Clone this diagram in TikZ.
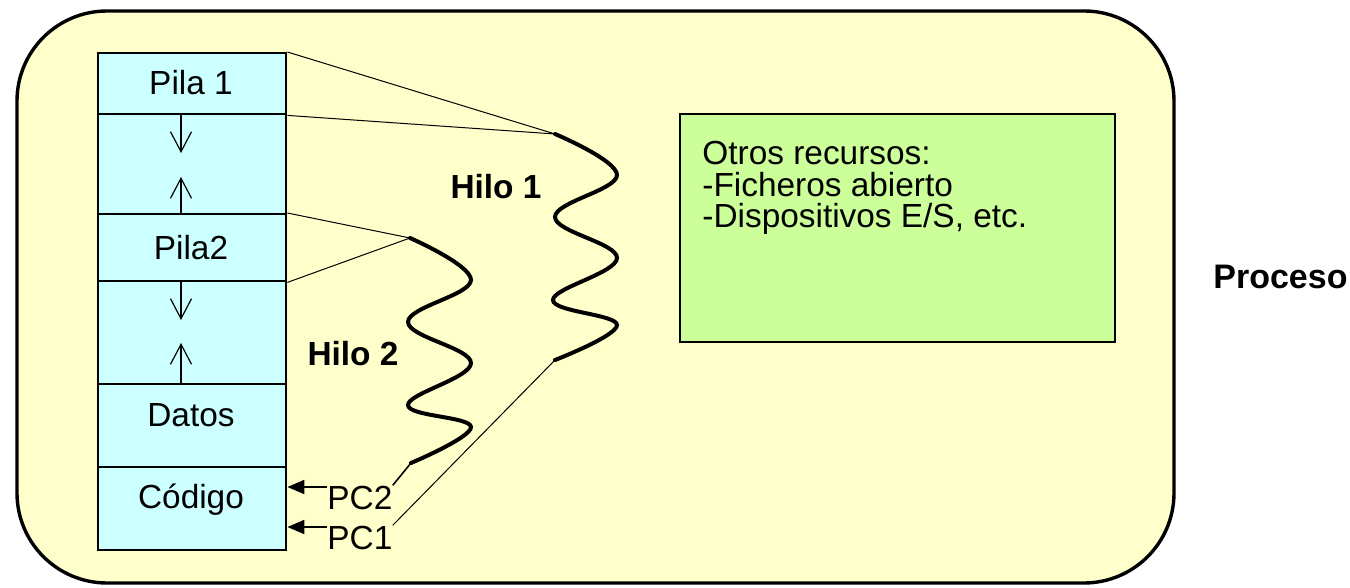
\documentclass[tikz,border=0pt]{standalone}
\usepackage{fontspec}
\setmainfont{Liberation Sans}
\usetikzlibrary{arrows.meta}
\definecolor{bgyellow}{HTML}{FFFFCC}
\definecolor{memcyan}{HTML}{CCFFFF}
\definecolor{resgreen}{HTML}{CCFF99}
\begin{document}
\begin{tikzpicture}[x=0.5pt,y=-0.5pt,
  txt/.style={font=\fontsize{16.7}{20}\selectfont, inner sep=0pt},
  btxt/.style={font=\fontsize{16.7}{20}\selectfont\bfseries, inner sep=0pt},
  membox/.style={draw=black, line width=1.2pt, fill=memcyan, inner sep=0pt, minimum width=94pt, anchor=north west},
  resbox/.style={draw=black, line width=1pt, fill=resgreen, inner sep=0pt, anchor=north west, minimum width=217.5pt, minimum height=114pt},
  gaparrow/.style={line width=0.6pt, -{Straight Barb[length=10pt,width=10.5pt]}},
  pcarrow/.style={line width=1pt, -{Triangle[length=8.5pt,width=7pt]}},
  wave/.style={line width=2pt, line cap=round},
  thin/.style={line width=0.5pt},
]
\useasboundingbox (0,0) rectangle (1350,588);
% outer process box
\draw[line width=1.7pt, fill=bgyellow, rounded corners=45pt] (17,11) rectangle (1174,583);

% memory column
\node[membox, minimum height=30.5pt] (pila1) at (97,52) {};
\node[membox, minimum height=50pt]   (gap1)  at (97,113) {};
\node[membox, minimum height=33.5pt] (pila2) at (97,213) {};
\node[membox, minimum height=51.5pt] (gap2)  at (97,280) {};
\node[membox, minimum height=41.5pt] (datos) at (97,383) {};
\node[membox, minimum height=41.5pt] (codigo) at (97,466) {};

\node[txt, anchor=base] (tpila1) at (191,95) {Pila 1};
\node[txt, anchor=base] (tpila2) at (191,260) {Pila2};
\node[txt, anchor=base] (tdatos) at (191,426) {Datos};
\node[txt, anchor=base] (tcodigo) at (191,508) {Código};

% growth arrows
\coordinate (d1) at (181,153);
\coordinate (u1) at (181,177);
\coordinate (d2) at (181,320);
\coordinate (u2) at (181,343);
\draw[gaparrow] (d1 |- gap1.north) -- (d1);
\draw[gaparrow] (u1 |- gap1.south) -- (u1);
\draw[gaparrow] (d2 |- gap2.north) -- (d2);
\draw[gaparrow] (u2 |- gap2.south) -- (u2);

% threads
\coordinate (h1s) at (555,134);
\coordinate (h1e) at (555,360);
\coordinate (h2s) at (410,238);
\coordinate (h2e) at (411,463);
\draw[wave] plot[smooth, tension=0.65] coordinates {(h1s) (617,175) (555,217) (617,258) (553,300) (617,325) (h1e)};
\draw[wave] plot[smooth, tension=0.65] coordinates {(h2s) (471,280) (408,322) (471,363) (408,405) (471,427) (h2e)};

\node[btxt, anchor=base] (hilo1) at (496,199) {Hilo 1};
\node[btxt, anchor=base] (hilo2) at (353,365) {Hilo 2};

% stack links
\draw[thin] (pila1.north east) -- (h1s);
\draw[thin] (pila1.south east) -- (h1s);
\draw[thin] (pila2.north east) -- (h2s);
\draw[thin] (pila2.south east) -- (h2s);

% program counters
\node[txt, anchor=base west] (pc2) at (327,509) {PC2};
\node[txt, anchor=base west] (pc1) at (327,549) {PC1};
\coordinate (pc2a) at (327,487);
\coordinate (pc1a) at (327,527);
\draw[pcarrow] (pc2a) -- (pc2a -| codigo.east);
\draw[pcarrow] (pc1a) -- (pc1a -| codigo.east);
\draw[line width=0.8pt] (h2e) -- (pc2.north east);
\draw[thin] (h1e) -- (pc1.north east);

% other resources
\node[resbox] (otros) at (679,113) {};
\node[txt, anchor=base west] (r1) at (702,165) {Otros recursos:};
\node[txt, anchor=base west] (r2) at (702,197) {-Ficheros abierto};
\node[txt, anchor=base west] (r3) at (702,228) {-Dispositivos E/S, etc.};

\node[btxt, anchor=base west, font=\fontsize{17}{20}\selectfont\bfseries] (proceso) at (1213,289) {Proceso};
\end{tikzpicture}
\end{document}
